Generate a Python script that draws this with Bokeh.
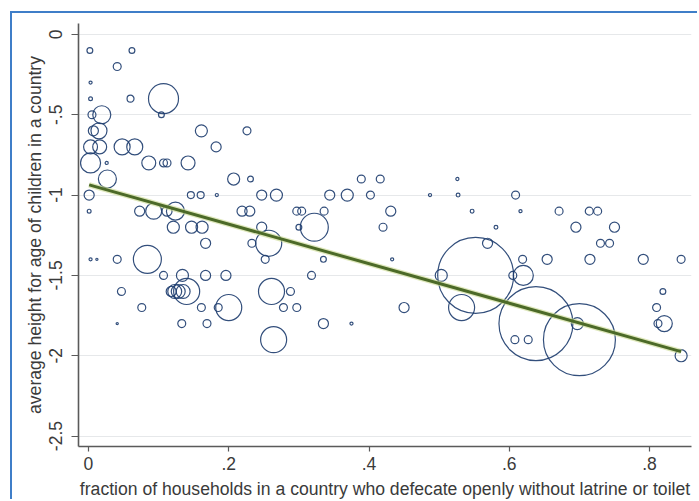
import numpy as np
from bokeh.plotting import figure
from bokeh.models import Range1d, FixedTicker, ColumnDataSource
from bokeh.embed import file_html
from bokeh.resources import INLINE

# share of households defecating openly (x), mean height-for-age z (y), population weight
open_defecation = [
    0.002, 0.062,
    0.041,
    0.003,
    0.003, 0.060, 0.107,
    0.005, 0.019, 0.104,
    0.007, 0.015, 0.161, 0.226,
    0.003, 0.016, 0.048, 0.066, 0.182,
    0.003, 0.026, 0.086, 0.107, 0.112, 0.142,
    0.027, 0.207, 0.231, 0.389, 0.416, 0.526,
    0.001, 0.146, 0.160, 0.183, 0.247, 0.268, 0.344, 0.369, 0.402, 0.487, 0.527, 0.609,
    0.001, 0.073, 0.093, 0.112, 0.124, 0.219, 0.230, 0.297, 0.304, 0.336, 0.431, 0.547,
    0.616, 0.671, 0.714, 0.726,
    0.121, 0.147, 0.162, 0.247, 0.300, 0.322, 0.420, 0.581, 0.695, 0.750,
    0.167, 0.233, 0.257, 0.569, 0.730, 0.743,
    0.003, 0.012, 0.041, 0.084, 0.252, 0.335, 0.433, 0.619, 0.654, 0.715, 0.791, 0.845,
    0.107, 0.134, 0.167, 0.196, 0.318, 0.503, 0.552, 0.605, 0.620,
    0.047, 0.118, 0.123, 0.128, 0.135, 0.140, 0.261, 0.288, 0.819,
    0.076, 0.161, 0.185, 0.200, 0.278, 0.297, 0.450, 0.532, 0.810,
    0.041, 0.133, 0.169, 0.335, 0.375, 0.638, 0.697, 0.812, 0.821,
    0.264, 0.608, 0.627, 0.700,
    0.845,
]
height_for_age = [
    -0.1, -0.1,
    -0.2,
    -0.3,
    -0.4, -0.4, -0.4,
    -0.5, -0.5, -0.5,
    -0.6, -0.6, -0.6, -0.6,
    -0.7, -0.7, -0.7, -0.7, -0.7,
    -0.8, -0.8, -0.8, -0.8, -0.8, -0.8,
    -0.9, -0.9, -0.9, -0.9, -0.9, -0.9,
    -1.0, -1.0, -1.0, -1.0, -1.0, -1.0, -1.0, -1.0, -1.0, -1.0, -1.0, -1.0,
    -1.1, -1.1, -1.1, -1.1, -1.1, -1.1, -1.1, -1.1, -1.1, -1.1, -1.1, -1.1,
    -1.1, -1.1, -1.1, -1.1,
    -1.2, -1.2, -1.2, -1.2, -1.2, -1.2, -1.2, -1.2, -1.2, -1.2,
    -1.3, -1.3, -1.3, -1.3, -1.3, -1.3,
    -1.4, -1.4, -1.4, -1.4, -1.4, -1.4, -1.4, -1.4, -1.4, -1.4, -1.4, -1.4,
    -1.5, -1.5, -1.5, -1.5, -1.5, -1.5, -1.5, -1.5, -1.5,
    -1.6, -1.6, -1.6, -1.6, -1.6, -1.6, -1.6, -1.6, -1.6,
    -1.7, -1.7, -1.7, -1.7, -1.7, -1.7, -1.7, -1.7, -1.7,
    -1.8, -1.8, -1.8, -1.8, -1.8, -1.8, -1.8, -1.8, -1.8,
    -1.9, -1.9, -1.9, -1.9,
    -2.0,
]
population = [
    7, 7,
    13,
    2,
    3, 10, 186,
    13, 67, 7,
    21, 53, 30, 13,
    40, 40, 53, 53, 21,
    83, 2, 40, 13, 13, 40,
    67, 30, 7, 13, 13, 2,
    21, 10, 10, 2, 21, 30, 21, 30, 13, 2, 3, 13,
    3, 21, 53, 21, 67, 21, 21, 13, 13, 13, 21, 3,
    2, 13, 13, 13,
    30, 30, 30, 21, 7, 162, 13, 3, 21, 21,
    21, 13, 140, 21, 13, 13,
    2, 1, 13, 162, 13, 7, 2, 13, 21, 21, 21, 13,
    13, 30, 21, 21, 13, 30, 1190, 13, 83,
    13, 21, 40, 40, 40, 140, 140, 13, 7,
    13, 13, 13, 140, 13, 13, 21, 140, 13,
    1, 13, 13, 21, 2, 1130, 30, 13, 53,
    140, 13, 13, 1070,
    30,
]

fit_intercept = -0.935
fit_slope = -1.23

x_ticks = [0, 0.2, 0.4, 0.6, 0.8]
x_tick_labels = ["0", ".2", ".4", ".6", ".8"]
y_ticks = [0, -0.5, -1, -1.5, -2, -2.5]
y_tick_labels = ["0", "-.5", "-1", "-1.5", "-2", "-2.5"]

x_title = "fraction of households in a country who defecate openly without latrine or toilet"
y_title = "average height for age of children in a country"

xs = np.array(open_defecation)
ys = np.array(height_for_age)
w = np.array(population, dtype=float)
src = ColumnDataSource(dict(x=xs, y=ys, s=2.2 * np.sqrt(w)))

FONT = "Liberation Sans"
TXT = "#3a3a3a"

p = figure(width=687, height=488, output_backend="svg", toolbar_location=None,
           x_range=Range1d(-0.0142, 0.8598), y_range=Range1d(-2.565, 0.068),
           min_border_left=66, min_border_right=8, min_border_top=10, min_border_bottom=54)
# blue frame of the surrounding panel: only its top and left edges are in view
p.styles = {"margin-top": "13px", "margin-left": "12px",
            "box-shadow": "-2px -2px 0px 0px #3f7ec8"}
p.outline_line_color = None
p.background_fill_color = "white"
p.border_fill_color = "white"

p.xgrid.grid_line_color = None
p.ygrid.grid_line_color = "#e6e8ea"
p.ygrid.grid_line_width = 1
p.ygrid.ticker = FixedTicker(ticks=y_ticks)

for ax, ticks, labels in ((p.xaxis[0], x_ticks, x_tick_labels), (p.yaxis[0], y_ticks, y_tick_labels)):
    ax.ticker = FixedTicker(ticks=ticks)
    ax.major_label_overrides = {t: l for t, l in zip(ticks, labels)}
    ax.minor_tick_line_color = None
    ax.axis_line_color = "#5a5a5a"
    ax.axis_line_width = 1.6
    ax.major_tick_line_color = "#5a5a5a"
    ax.major_tick_line_width = 1.2
    ax.major_tick_in = 0
    ax.major_label_text_font = FONT
    ax.major_label_text_font_size = "17.5px"
    ax.major_label_text_color = TXT
    ax.axis_label_text_font = FONT
    ax.axis_label_text_font_size = "17.6px"
    ax.axis_label_text_font_style = "normal"
    ax.axis_label_text_color = TXT

p.xaxis.major_tick_out = 5
p.xaxis.major_label_standoff = 5
p.xaxis.axis_label = x_title
p.xaxis.axis_label_standoff = 6
p.yaxis.major_tick_out = 7
p.yaxis.major_label_standoff = 9
p.yaxis.major_label_orientation = "vertical"
p.yaxis.axis_label = y_title
p.yaxis.axis_label_standoff = 2

p.scatter("x", "y", size="s", source=src, marker="circle", fill_color=None,
          line_color="#1d3c6e", line_width=1.2, line_alpha=0.9)

fx = np.array([xs.min(), xs.max()])
fy = fit_intercept + fit_slope * fx
p.line(fx, fy, line_color="#c9d98f", line_width=5.5, line_alpha=0.6)
p.line(fx, fy, line_color="#4c6a28", line_width=3)

open("out.html", "w").write(file_html(p, INLINE))
